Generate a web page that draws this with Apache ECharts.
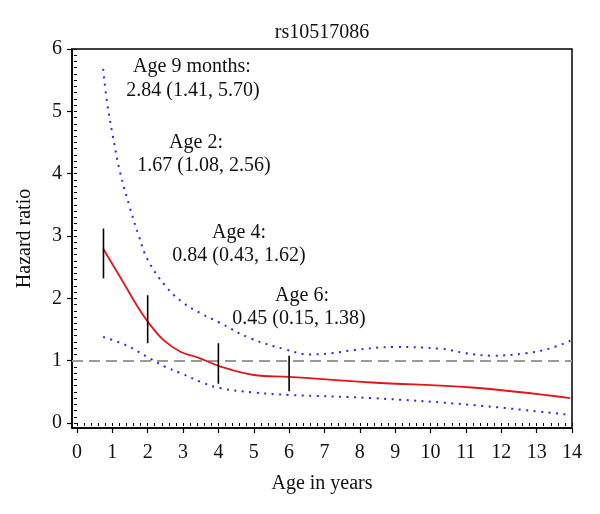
<!DOCTYPE html>
<html>
<head>
<meta charset="utf-8">
<script src="https://cdn.jsdelivr.net/npm/echarts@6/dist/echarts.min.js"></script>
<style>html,body{margin:0;padding:0;background:#fff;}#c{width:600px;height:514px;}</style>
</head>
<body>
<div id="c"></div>
<script>
// ---- data ----
var titleText = 'rs10517086';
var xAxisName = 'Age in years';
var yAxisName = 'Hazard ratio';
var xTicks = [0,1,2,3,4,5,6,7,8,9,10,11,12,13,14];
var yTicks = [0,1,2,3,4,5,6];
var refValue = 1;

// estimated hazard ratio (red)
var hrAge = [0.74,1.0,1.38,1.7,2.05,2.45,2.94,3.43,4.04,5.0,6.0,8.33,11.16,13.95];
var hrVal = [2.80,2.55,2.19,1.88,1.59,1.33,1.14,1.05,0.91,0.77,0.74,0.65,0.57,0.40];

// upper confidence limit (blue dotted)
var upAge = [0.74,0.85,1.0,1.22,1.5,1.75,2.0,2.5,3.0,3.5,4.0,4.9,5.9,6.6,7.2,7.83,9.0,10.3,11.0,11.75,12.7,13.4,13.95];
var upVal = [5.68,5.15,4.65,4.02,3.45,3.0,2.62,2.2,1.93,1.76,1.62,1.36,1.18,1.1,1.12,1.17,1.22,1.19,1.12,1.08,1.12,1.2,1.32];

// lower confidence limit (blue dotted)
var loAge = [0.74,1.38,2.05,2.5,2.94,3.5,4.04,5.0,6.0,8.33,11.16,13.95];
var loVal = [1.38,1.25,1.04,0.9,0.80,0.66,0.56,0.49,0.45,0.40,0.29,0.13];

// vertical interval bars at selected ages
var barAge  = [0.75,2,4,6];
var barLow  = [2.32,1.28,0.63,0.51];
var barHigh = [3.12,2.05,1.28,1.08];

// annotation texts
var annoHead = ['Age 9 months:','Age 2:','Age 4:','Age 6:'];
var annoBody = ['2.84 (1.41, 5.70)','1.67 (1.08, 2.56)','0.84 (0.43, 1.62)','0.45 (0.15, 1.38)'];

// ---- build ----
function zip(a,b){var r=[];for(var i=0;i<a.length;i++)r.push([a[i],b[i]]);return r;}
function minor(lo,hi,step){var r=[];var n=Math.round((hi-lo)/step);for(var i=0;i<=n;i++)r.push(+(lo+i*step).toFixed(4));return r;}
var xMinor = minor(0,14,0.2);
var yMinor = minor(0,6,0.1);
var barData = [];
for (var i=0;i<barAge.length;i++) barData.push([barAge[i],barLow[i],barHigh[i]]);

var FONT = '"Liberation Serif", "DejaVu Serif", serif';
var TXT = '#111';
var FS = 20;

// annotation layout (pixels)
var annoPos = [[192,67,193,91],[196,143,204,166],[239,233,239,256],[302,296,299,319]];
var graphics = [{type:'text', x:322, y:33, style:{text:titleText, font:FS+'px '+FONT, fill:TXT, textAlign:'center', textVerticalAlign:'middle'}}];
for (var k=0;k<annoHead.length;k++){
  graphics.push({type:'text', x:annoPos[k][0], y:annoPos[k][1], style:{text:annoHead[k], font:FS+'px '+FONT, fill:TXT, textAlign:'center', textVerticalAlign:'middle'}});
  graphics.push({type:'text', x:annoPos[k][2], y:annoPos[k][3], style:{text:annoBody[k], font:FS+'px '+FONT, fill:TXT, textAlign:'center', textVerticalAlign:'middle'}});
}

var xRange = {min:-0.14, max:14};
var yRange = {min:-0.08, max:6};

var chart = echarts.init(document.getElementById('c'), null, {renderer:'canvas'});
chart.setOption({
  animation:false,
  backgroundColor:'#fff',
  grid:{left:72, right:28, top:49, bottom:86, show:true, borderColor:'#000', borderWidth:1.5, backgroundColor:'transparent'},
  xAxis:[
    {type:'value', min:xRange.min, max:xRange.max, position:'bottom',
     name:xAxisName, nameLocation:'middle', nameGap:46, nameTextStyle:{fontFamily:FONT, fontSize:FS, color:TXT},
     axisLine:{show:true, onZero:false, lineStyle:{color:'#000', width:1.5}},
     axisTick:{show:true, length:5, customValues:xTicks, lineStyle:{color:'#000', width:1.2}},
     axisLabel:{show:true, customValues:xTicks, margin:15, fontFamily:FONT, fontSize:FS, color:TXT},
     splitLine:{show:false}},
    {type:'value', min:xRange.min, max:xRange.max, position:'bottom',
     axisLine:{show:false}, axisTick:{show:true, length:3, customValues:xMinor, lineStyle:{color:'#000', width:1}},
     axisLabel:{show:false}, splitLine:{show:false}}
  ],
  yAxis:[
    {type:'value', min:yRange.min, max:yRange.max, position:'left',
     name:yAxisName, nameLocation:'middle', nameGap:37, nameTextStyle:{fontFamily:FONT, fontSize:FS, color:TXT},
     axisLine:{show:true, onZero:false, lineStyle:{color:'#000', width:1.5}},
     axisTick:{show:true, length:5, customValues:yTicks, lineStyle:{color:'#000', width:1.2}},
     axisLabel:{show:true, customValues:yTicks, margin:10, fontFamily:FONT, fontSize:FS, color:TXT},
     splitLine:{show:false}},
    {type:'value', min:yRange.min, max:yRange.max, position:'left',
     axisLine:{show:false}, axisTick:{show:true, length:3, customValues:yMinor, lineStyle:{color:'#000', width:1}},
     axisLabel:{show:false}, splitLine:{show:false}}
  ],
  graphic:graphics,
  series:[
    {type:'line', name:'upper', data:zip(upAge,upVal), smooth:0.4, symbol:'none', xAxisIndex:0, yAxisIndex:0,
     lineStyle:{color:'#2a2ad6', width:2, type:[2,5.5], cap:'butt'}},
    {type:'line', name:'lower', data:zip(loAge,loVal), smooth:0.4, symbol:'none', xAxisIndex:0, yAxisIndex:0,
     lineStyle:{color:'#2a2ad6', width:2, type:[2,5.5], cap:'butt'}},
    {type:'line', name:'hr', data:zip(hrAge,hrVal), smooth:0.4, symbol:'none', xAxisIndex:0, yAxisIndex:0, z:5,
     lineStyle:{color:'#e3151b', width:1.8},
     markLine:{silent:true, symbol:'none', label:{show:false},
       lineStyle:{color:'#999', width:2, type:[11,6]}, data:[{yAxis:refValue}]}},
    {type:'custom', name:'bars', data:barData, xAxisIndex:0, yAxisIndex:0, z:6,
     renderItem:function(params, api){
       var p1 = api.coord([api.value(0), api.value(1)]);
       var p2 = api.coord([api.value(0), api.value(2)]);
       return {type:'line', shape:{x1:p1[0], y1:p1[1], x2:p2[0], y2:p2[1]}, style:{stroke:'#000', lineWidth:1.6}};
     }}
  ]
});
</script>
</body>
</html>
